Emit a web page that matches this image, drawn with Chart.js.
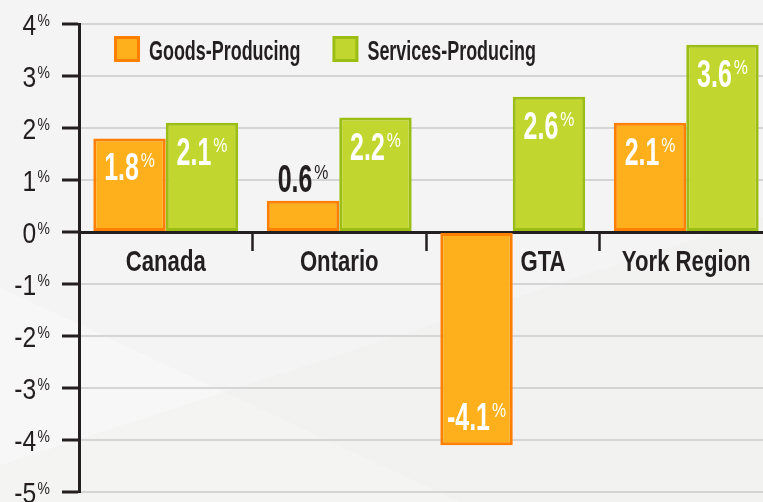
<!DOCTYPE html>
<html>
<head>
<meta charset="utf-8">
<script src="https://cdn.jsdelivr.net/npm/chart.js@4.4.1/dist/chart.umd.min.js"></script>
<style>
  html, body { margin: 0; padding: 0; overflow: hidden; }
  body {
    width: 763px; height: 502px; position: relative;
    background:
      linear-gradient(162deg, rgba(255,255,255,0) 62%, rgba(236,234,232,.25) 62%),
      linear-gradient(205deg, rgba(255,255,255,0) 75%, rgba(255,255,255,.25) 75%),
      #f4f4f4;
  }
  #wrap { position: absolute; left: 0; top: 0; width: 773px; height: 502px; }
</style>
</head>
<body>
<div id="wrap"><canvas id="c"></canvas></div>
<script>
// ── 資料 ─────────────────────────────────────────
const CATEGORIES = ['Canada', 'Ontario', 'GTA', 'York Region'];
const SERIES = ['Goods-Producing', 'Services-Producing'];
const GOODS = [1.8, 0.6, -4.1, 2.1];
const SERVICES = [2.1, 2.2, 2.6, 3.6];
const Y_MIN = -5, Y_MAX = 4, Y_STEP = 1;

// ── 樣式 ─────────────────────────────────────────
const INK = '#231f20';
const ORANGE = '#fdb01b', ORANGE_EDGE = '#ff7f00';
const GREEN = '#c1d72f', GREEN_EDGE = '#9cbd13';
const GRID = '#d5d5d5';
// 沒有窄體字 → 用 Liberation Sans 再水平壓扁(≈ 0.82 = Narrow 的比例)
const FONT = "'Liberation Sans', Arial, sans-serif";
const NARROW = 0.82;
const CAP = 0.716;                                 // 大寫字高 / 字級

// 數字 + 上標 %(兩者頂端對齊);align = 'center' | 'right'
function drawPct(ctx, num, x, capTop, o) {
  ctx.save();
  ctx.fillStyle = o.color;
  ctx.textAlign = 'left';
  ctx.textBaseline = 'alphabetic';
  const fN = `${o.weight} ${o.size}px ${FONT}`;
  const fP = `${o.pWeight} ${o.pSize}px ${FONT}`;
  ctx.font = fN;
  const wN = ctx.measureText(num).width * o.sx;
  ctx.font = fP;
  const wP = ctx.measureText('%').width * o.psx;
  const total = wN + o.gap + wP;
  const left = o.align === 'right' ? x - total : x - total / 2;

  ctx.save();
  ctx.translate(left, capTop + o.size * CAP);
  ctx.scale(o.sx, 1);
  ctx.font = fN;
  ctx.fillText(num, 0, 0);
  ctx.restore();

  ctx.save();
  ctx.translate(left + wN + o.gap, capTop + o.pSize * CAP);
  ctx.scale(o.psx, 1);
  ctx.font = fP;
  ctx.fillText('%', 0, 0);
  ctx.restore();
  ctx.restore();
}

function drawSqueezed(ctx, text, x, baseline, font, sx, align) {
  ctx.save();
  ctx.font = font;
  ctx.textAlign = 'left';
  ctx.textBaseline = 'alphabetic';
  const w = ctx.measureText(text).width * sx;
  const left = align === 'center' ? x - w / 2 : x;
  ctx.translate(left, baseline);
  ctx.scale(sx, 1);
  ctx.fillText(text, 0, 0);
  ctx.restore();
  return w;
}

// 柱上數值
const valueLabels = {
  id: 'valueLabels',
  afterDatasetsDraw(chart) {
    const { ctx } = chart;
    const size = 39, cap = size * CAP;
    chart.data.datasets.forEach((ds, di) => {
      chart.getDatasetMeta(di).data.forEach((bar, i) => {
        const v = ds.data[i];
        const top = Math.min(bar.y, bar.base), bottom = Math.max(bar.y, bar.base);
        let capTop, color = '#fff';
        if (v < 0) capTop = bottom - 15 - cap;
        else if (bottom - top > 60) capTop = top + 14;
        else { capTop = top - 9 - cap; color = INK; }
        drawPct(ctx, v.toFixed(1), bar.x, capTop, {
          color, weight: 'bold', size, sx: 0.78 * NARROW,
          pWeight: 'normal', pSize: 21, psx: 0.92 * NARROW, gap: 2, align: 'center',
        });
      });
    });
  },
};

// Y 軸刻度文字(上標 %)、X 軸類別、圖例
const decorations = {
  id: 'decorations',
  afterDraw(chart) {
    const { ctx, scales, chartArea } = chart;
    ctx.save();

    // y 軸
    scales.y.ticks.forEach((t) => {
      const y = scales.y.getPixelForValue(t.value);
      drawPct(ctx, String(t.value), 50, y - 10, {
        color: INK, weight: 'normal', size: 30, sx: NARROW,
        pWeight: 'normal', pSize: 17, psx: NARROW, gap: 1.5, align: 'right',
      });
    });

    // x 軸類別(負值那組置中在正值柱下)
    const zeroY = scales.y.getPixelForValue(0);
    const mS = chart.getDatasetMeta(1).data;
    CATEGORIES.forEach((name, i) => {
      let x = scales.x.getPixelForValue(i);
      if (GOODS[i] < 0) x = mS[i].x - 6;
      ctx.fillStyle = INK;
      drawSqueezed(ctx, name, x, zeroY + 39, `bold 30px ${FONT}`, 0.9 * NARROW, 'center');
    });

    // 圖例
    let lx = chartArea.left + 35;
    const ly = chartArea.top + 12;
    chart.data.datasets.forEach((ds) => {
      ctx.fillStyle = ds.borderColor;
      ctx.fillRect(lx, ly, 26, 26);
      ctx.fillStyle = ds.backgroundColor;
      ctx.fillRect(lx + 3, ly + 3, 20, 20);
      ctx.fillStyle = INK;
      const w = drawSqueezed(ctx, ds.label, lx + 35, ly + 24, `bold 27px ${FONT}`, 0.81 * NARROW, 'left');
      lx += 35 + w + 32;
    });
    ctx.restore();
  },
};

new Chart(document.getElementById('c'), {
  type: 'bar',
  data: {
    labels: CATEGORIES,
    datasets: [
      { label: SERIES[0], data: GOODS, backgroundColor: ORANGE, borderColor: ORANGE_EDGE },
      { label: SERIES[1], data: SERVICES, backgroundColor: GREEN, borderColor: GREEN_EDGE },
    ],
  },
  options: {
    responsive: true, maintainAspectRatio: false, animation: false,
    layout: { padding: { top: 24, bottom: 10, left: 0, right: 0 } },
    datasets: { bar: { categoryPercentage: 0.835, barPercentage: 1, borderWidth: 3, borderSkipped: false } },
    plugins: { legend: { display: false }, tooltip: { enabled: false } },
    scales: {
      x: {
        position: { y: 0 }, z: 1,
        grid: { display: true, drawOnChartArea: false, offset: true, tickLength: 17, tickWidth: 2.5, tickColor: INK },
        border: { display: true, color: INK, width: 3 },
        ticks: { display: false },
      },
      y: {
        min: Y_MIN, max: Y_MAX,
        afterFit: (s) => { s.width = 79; },
        grid: { color: GRID, lineWidth: 2, tickLength: 17, tickWidth: 3, tickColor: INK },
        border: { color: INK, width: 3 },
        ticks: { display: false, stepSize: Y_STEP },
      },
    },
  },
  plugins: [valueLabels, decorations],
});
</script>
</body>
</html>
